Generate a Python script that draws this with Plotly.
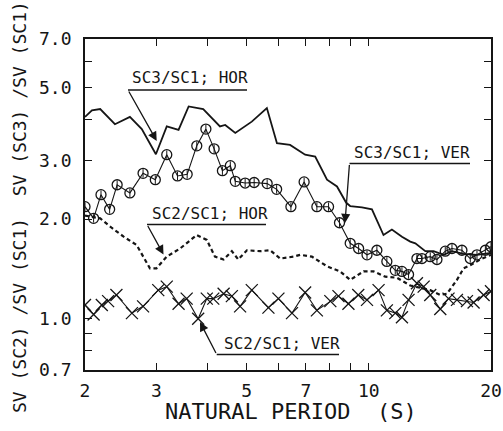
import plotly.graph_objects as go
import math

# ---- data ----
hor31_x = [2.00, 2.08, 2.18, 2.37, 2.58, 2.76, 2.99, 3.18, 3.40, 3.60, 3.91, 4.30, 4.43, 4.69,
           5.15, 5.61, 5.94, 6.40, 6.97, 7.38, 7.89, 8.35, 8.80, 9.00, 9.62, 10.18, 10.87, 11.40,
           12.07, 12.65, 13.02, 13.78, 14.44, 15.29, 16.03, 17.12, 18.47, 20.0]
hor31_y = [4.07, 4.26, 4.30, 3.87, 4.07, 3.74, 3.14, 3.81, 3.72, 4.38, 4.30, 3.81, 3.85, 3.64,
           3.94, 4.33, 3.39, 3.35, 3.13, 3.09, 2.63, 2.51, 2.24, 2.19, 2.17, 2.14, 1.79, 1.86,
           1.77, 1.71, 1.69, 1.60, 1.60, 1.56, 1.60, 1.57, 1.56, 1.58]

ver31_x = [2.00, 2.10, 2.19, 2.30, 2.40, 2.58, 2.78, 2.98, 3.18, 3.38, 3.57, 3.77, 3.97, 4.16,
           4.36, 4.56, 4.69, 4.96, 5.22, 5.62, 5.93, 6.43, 6.93, 7.45, 7.96, 8.47, 9.00, 9.44,
           9.90, 10.47, 11.08, 11.62, 12.07, 12.53, 13.14, 13.52, 14.17, 14.72, 15.43, 16.03,
           16.96, 17.78, 18.47, 19.37, 20.0]
ver31_y = [2.18, 2.01, 2.37, 2.14, 2.54, 2.40, 2.75, 2.63, 3.13, 2.70, 2.73, 3.33, 3.74, 3.26,
           2.80, 2.90, 2.60, 2.57, 2.58, 2.56, 2.46, 2.18, 2.59, 2.18, 2.18, 1.95, 1.69, 1.63,
           1.56, 1.61, 1.49, 1.40, 1.39, 1.36, 1.52, 1.52, 1.54, 1.51, 1.60, 1.63,
           1.61, 1.52, 1.56, 1.61, 1.65]

hor21_x = [2.00, 2.18, 2.33, 2.49, 2.68, 2.81, 2.89, 3.00, 3.18, 3.43, 3.77, 3.99, 4.18, 4.39,
           4.60, 4.77, 5.01, 5.40, 5.72, 6.05, 6.53, 6.78, 7.24, 7.89, 8.50, 9.00, 9.71, 10.27,
           10.98, 11.73, 12.65, 14.17, 15.00, 15.58, 16.49, 17.12, 17.78, 18.82, 20.0]
hor21_y = [2.05, 2.01, 1.88, 1.77, 1.67, 1.51, 1.42, 1.42, 1.54, 1.63, 1.79, 1.73, 1.54, 1.51,
           1.60, 1.51, 1.61, 1.60, 1.61, 1.52, 1.54, 1.56, 1.54, 1.44, 1.39, 1.31, 1.39, 1.39,
           1.34, 1.33, 1.26, 1.22, 1.18, 1.19, 1.31, 1.42, 1.45, 1.51, 1.56]

ver21_x = [2.00, 2.10, 2.20, 2.28, 2.39, 2.61, 2.78, 3.03, 3.18, 3.40, 3.56, 3.80, 3.99, 4.14,
           4.39, 4.60, 4.82, 5.15, 5.66, 5.99, 6.47, 6.97, 7.45, 8.04, 8.42, 8.91, 9.42, 9.90,
           10.57, 11.08, 11.62, 12.07, 12.53, 13.14, 13.65, 14.17, 15.00, 15.72, 16.49, 17.45,
           18.12, 19.18, 20.0]
ver21_y = [1.10, 1.03, 1.10, 1.13, 1.18, 1.04, 1.09, 1.22, 1.25, 1.11, 1.15, 1.00, 1.15, 1.15,
           1.19, 1.17, 1.09, 1.22, 1.08, 1.15, 1.04, 1.20, 1.06, 1.13, 1.17, 1.11, 1.18, 1.14,
           1.22, 1.06, 1.04, 1.01, 1.14, 1.28, 1.25, 1.18, 1.07, 1.15, 1.14, 1.13,
           1.12, 1.18, 1.21]

x_tickvals = [2, 3, 4, 5, 6, 7, 8, 9, 10, 20]
x_ticktext = ["2", "3", "", "5", "", "7", "", "", "10", "20"]
y_tickvals = [0.7, 0.8, 0.9, 1.0, 2.0, 3.0, 4.0, 5.0, 6.0, 7.0]
y_ticktext = ["0.7", "", "", "1.0", "2.0", "3.0", "", "5.0", "", "7.0"]

labels = ["SC3/SC1; HOR", "SC3/SC1; VER", "SC2/SC1; HOR", "SC2/SC1; VER"]
x_title = "NATURAL PERIOD  (S)"
y_title = "SV (SC2) /SV (SC1)  SV (SC3) /SV (SC1)"

INK = "#151515"
FONT = "DejaVu Sans Mono"

fig = go.Figure()
fig.add_trace(go.Scatter(x=hor31_x, y=hor31_y, mode="lines",
                         line=dict(color=INK, width=1.8), name=labels[0]))
fig.add_trace(go.Scatter(x=ver31_x, y=ver31_y, mode="lines+markers",
                         line=dict(color=INK, width=1.1),
                         marker=dict(symbol="circle-open", size=10, color=INK,
                                     line=dict(width=1.3, color=INK)), name=labels[1]))
fig.add_trace(go.Scatter(x=ver31_x, y=ver31_y, mode="markers",
                         marker=dict(symbol="line-ns-open", size=6, color=INK,
                                     line=dict(width=1, color=INK)),
                         showlegend=False, hoverinfo="skip"))
fig.add_trace(go.Scatter(x=hor21_x, y=hor21_y, mode="lines",
                         line=dict(color=INK, width=2.2, dash="4px,3px"), name=labels[2]))
fig.add_trace(go.Scatter(x=ver21_x, y=ver21_y, mode="lines+markers",
                         line=dict(color=INK, width=1.1),
                         marker=dict(symbol="x-thin-open", size=12, color=INK,
                                     line=dict(width=1.3, color=INK)), name=labels[3]))

L, R, T, B = 85, 12, 39, 61
W, H = 503, 431
PW, PH = W - L - R, H - T - B


def px2paper(px, py):
    return (px - L) / PW, (H - B - py) / PH


# label texts, underlines and pointer arrows (pixel layout positions)
label_layout = [
    # text-left, text-cy, underline x0, x1, y, arrow tip (px,py)
    (130, 77, 128, 247, 90, (156.7, 141)),
    (352, 152, 349.5, 470, 163.5, (345, 223)),
    (150, 214, 147, 266, 224.5, (163.5, 254.5)),
    (222, 343, 216.7, 339, 354.5, (200, 322)),
]
for txt, (tx, ty, ux0, ux1, uy, tip) in zip(labels, label_layout):
    ax_, ay_ = px2paper(tx, ty)
    fig.add_annotation(x=ax_, y=ay_, xref="paper", yref="paper", text=txt,
                       showarrow=False, xanchor="left", yanchor="middle",
                       font=dict(family=FONT, size=16, color=INK))
    x0, y0 = px2paper(ux0, uy)
    x1, _ = px2paper(ux1, uy)
    fig.add_shape(type="line", xref="paper", yref="paper", x0=x0, x1=x1, y0=y0, y1=y0,
                  line=dict(color=INK, width=1.6))
    hx, hy = px2paper(*tip)
    fig.add_annotation(x=hx, y=hy, xref="paper", yref="paper", text="",
                       showarrow=True, ax=ux0 - tip[0], ay=uy - tip[1],
                       arrowhead=2, arrowsize=1.4, arrowwidth=1.3, arrowcolor=INK,
                       standoff=0, startstandoff=0)

# axis titles
xt, yt = px2paper(291, 411)
fig.add_annotation(x=xt, y=yt, xref="paper", yref="paper", text=x_title, showarrow=False,
                   xanchor="center", yanchor="middle",
                   font=dict(family=FONT, size=22, color=INK))
xt, yt = px2paper(19, 207)
fig.add_annotation(x=xt, y=yt, xref="paper", yref="paper", text=y_title, showarrow=False,
                   textangle=-90, xanchor="center", yanchor="middle",
                   font=dict(family=FONT, size=18, color=INK))

axis_common = dict(showgrid=False, zeroline=False, showline=True, linecolor=INK, linewidth=1.8,
                   mirror="ticks", ticks="inside", ticklen=7, tickwidth=1.4, tickcolor=INK,
                   tickfont=dict(family=FONT, size=18, color=INK))
fig.update_xaxes(type="log", range=[math.log10(2), math.log10(20)],
                 tickvals=x_tickvals, ticktext=x_ticktext, ticklabelstandoff=3, **axis_common)
fig.update_yaxes(type="log", range=[math.log10(0.7), math.log10(7)],
                 tickvals=y_tickvals, ticktext=y_ticktext, ticklabelstandoff=8, **axis_common)

fig.update_layout(width=W, height=H, margin=dict(l=L, r=R, t=T, b=B, autoexpand=False),
                  paper_bgcolor="white", plot_bgcolor="white", showlegend=False)

fig.write_html("out.html")
